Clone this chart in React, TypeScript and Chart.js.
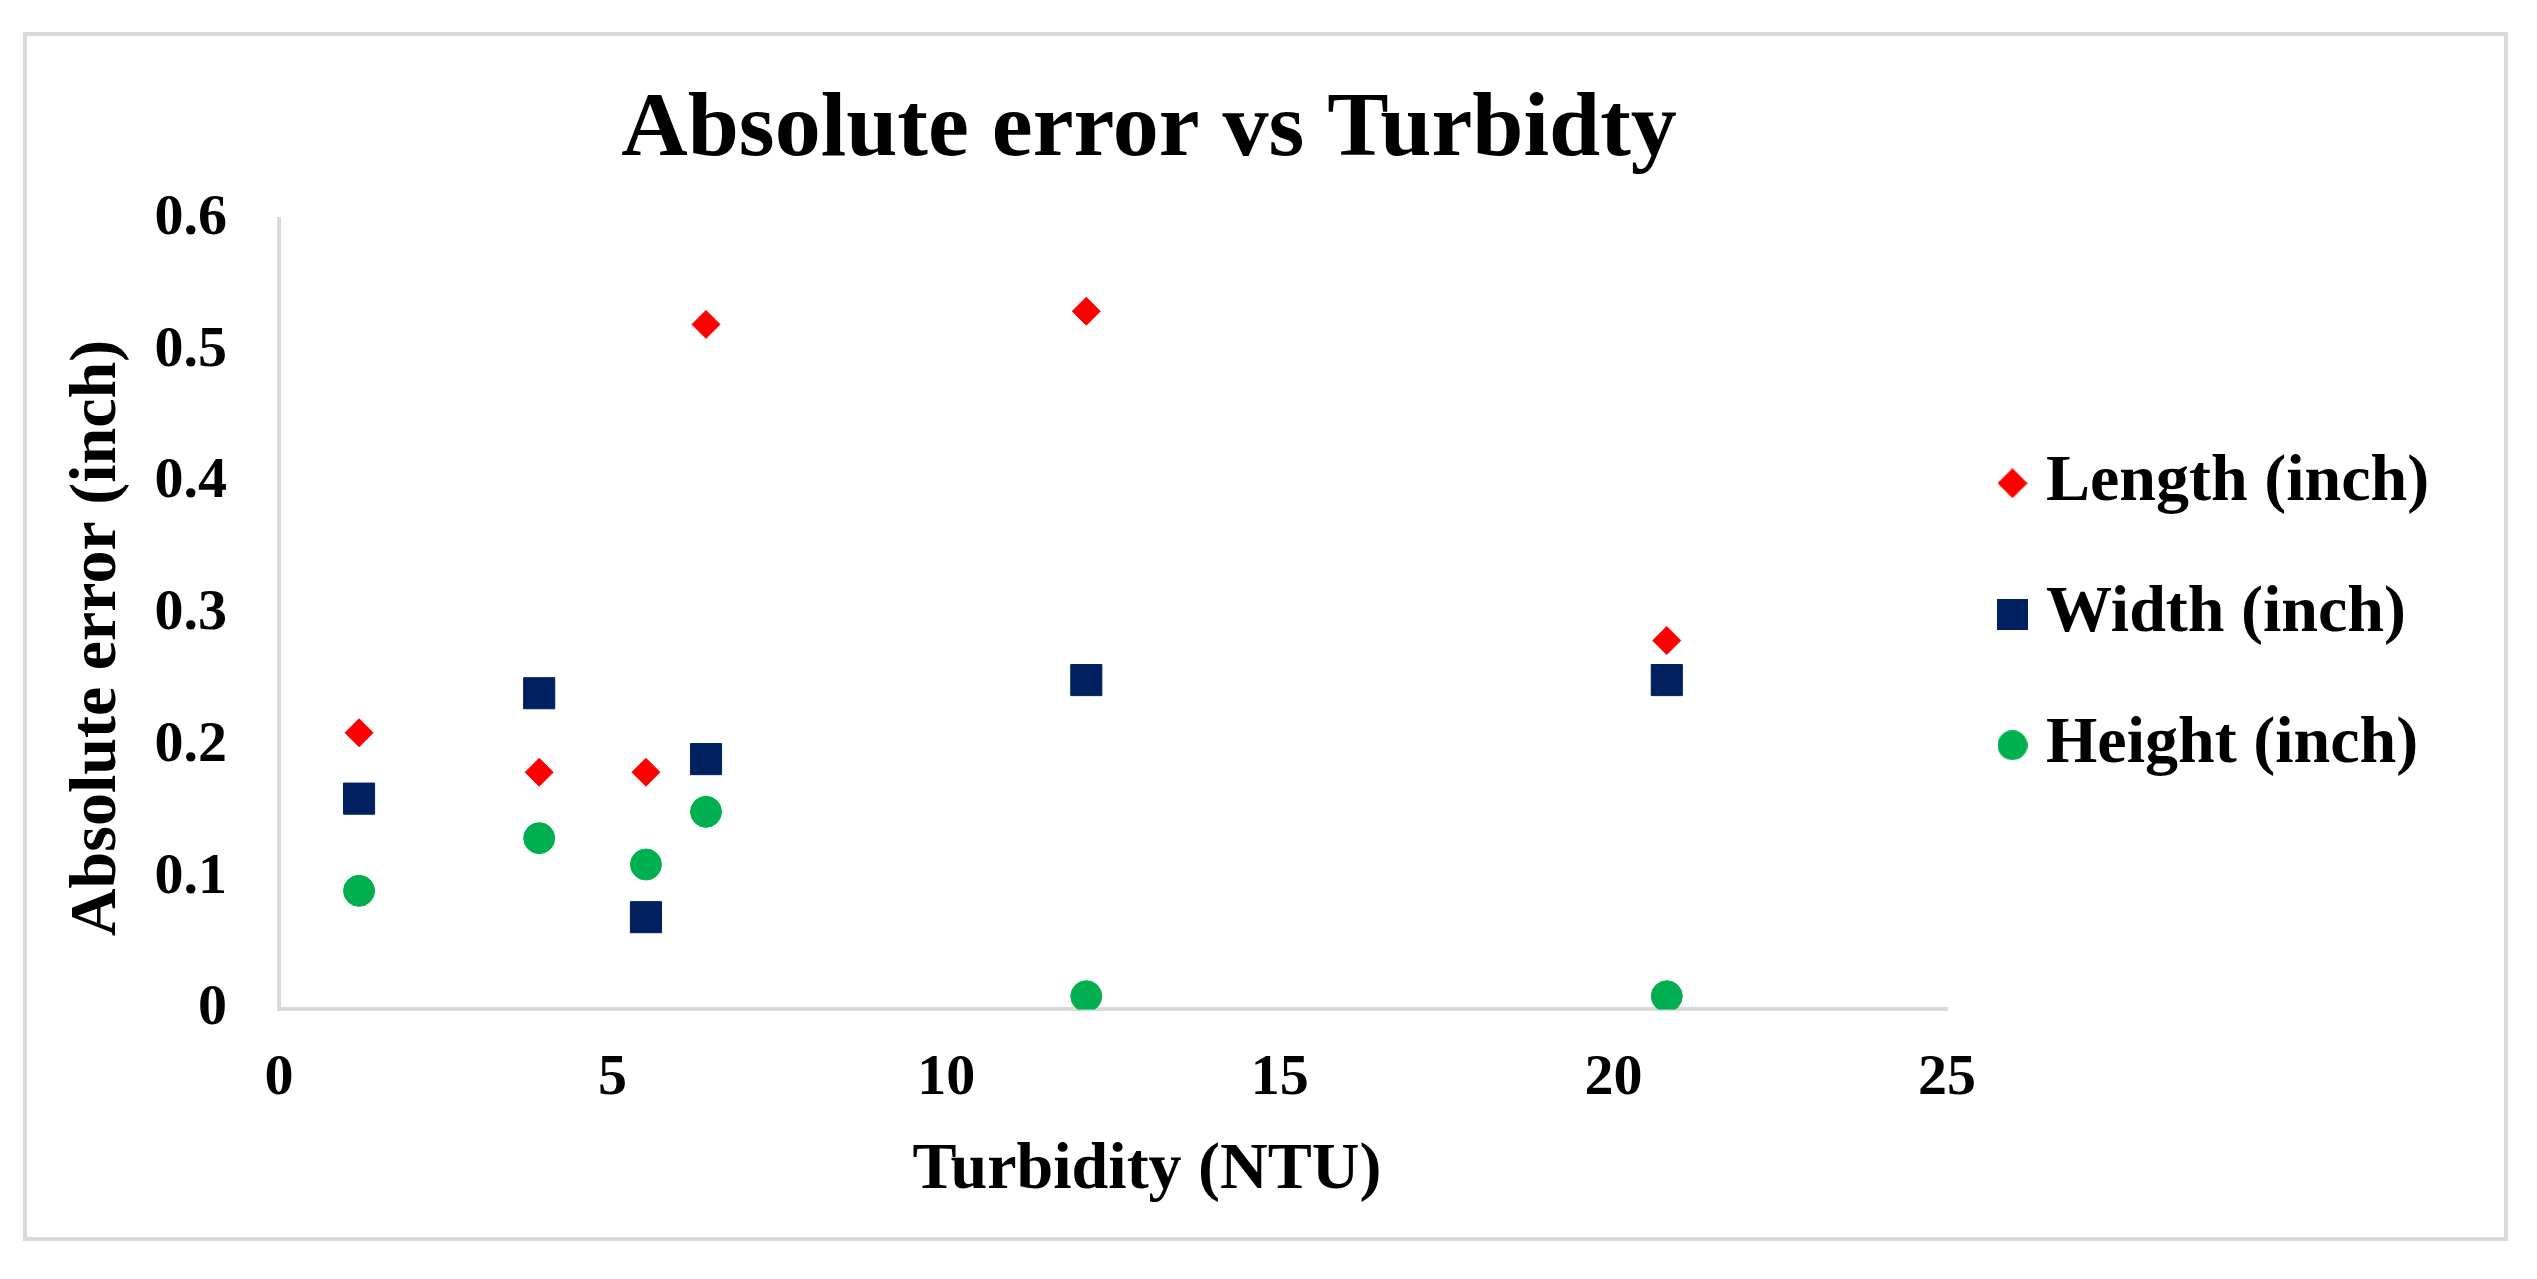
import React, { useEffect, useRef } from "react";
import { Chart, registerables, Legend } from "chart.js";

Chart.register(...registerables);

// ---- data ----
const turbidity = [1.2, 3.9, 5.5, 6.4, 12.1, 20.8];
const lengthErr = [0.21, 0.18, 0.18, 0.52, 0.53, 0.28];
const widthErr = [0.16, 0.24, 0.07, 0.19, 0.25, 0.25];
const heightErr = [0.09, 0.13, 0.11, 0.15, 0.01, 0.01];
const seriesNames = ["Length (inch)", "Width (inch)", "Height (inch)"];
const chartTitle = "Absolute error vs Turbidty";
const xTitle = "Turbidity (NTU)";
const yTitle = "Absolute error (inch)";

const FONT = '"Liberation Serif", "Times New Roman", serif';
const RED = "#ff0000";
const NAVY = "#002060";
const GREEN = "#00b050";

const W = 2537;
const H = 1279;

function makeIcon(shape: string, color: string, size: number) {
  const c = document.createElement("canvas");
  c.width = size;
  c.height = size;
  const g = c.getContext("2d")!;
  g.fillStyle = color;
  const h = size / 2;
  g.beginPath();
  if (shape === "diamond") {
    g.moveTo(h, 0);
    g.lineTo(size, h);
    g.lineTo(h, size);
    g.lineTo(0, h);
    g.closePath();
  } else if (shape === "square") {
    g.rect(0, 0, size, size);
  } else {
    g.arc(h, h, h, 0, Math.PI * 2);
  }
  g.fill();
  return c;
}

export default function App() {
  const ref = useRef<HTMLCanvasElement | null>(null);

  useEffect(() => {
    if (!ref.current) return;
    const legendFontSize = 66;
    const legendPad = 65;
    const legendBox = 1;

    const m = document.createElement("canvas").getContext("2d")!;
    m.font = `bold ${legendFontSize}px ${FONT}`;
    const maxText = Math.max(...seriesNames.map((s) => m.measureText(s).width));
    const plotRight = 1947;
    const legendWidth = legendPad + legendBox + legendFontSize / 2 + maxText + 10;
    const padRight = W - plotRight - legendWidth;

    const icons = [
      makeIcon("diamond", RED, 30),
      makeIcon("square", NAVY, 31),
      makeIcon("circle", GREEN, 30),
    ];

    const titlePlugin = {
      id: "titles",
      afterDraw(chart: any) {
        const { ctx } = chart;
        ctx.save();
        ctx.fillStyle = "#000";
        // main title
        ctx.font = `bold 92px ${FONT}`;
        ctx.textAlign = "center";
        ctx.textBaseline = "alphabetic";
        ctx.fillText(chartTitle, 1149, 155);
        // x axis title
        ctx.font = `bold 66px ${FONT}`;
        ctx.textBaseline = "middle";
        ctx.fillText(xTitle, 1147, 1171);
        // y axis title
        ctx.translate(98, 638);
        ctx.rotate(-Math.PI / 2);
        ctx.fillText(yTitle, 0, 0);
        ctx.restore();
      },
    };

    const mk = (arr: number[]) => turbidity.map((x, i) => ({ x, y: arr[i] }));

    const chart = new Chart(ref.current, {
      type: "scatter",
      data: {
        datasets: [
          {
            label: seriesNames[0],
            data: mk(lengthErr),
            pointStyle: "rectRot",
            pointRadius: 14,
            borderWidth: 1,
            backgroundColor: RED,
            borderColor: RED,
          },
          {
            label: seriesNames[1],
            data: mk(widthErr),
            pointStyle: "rect",
            pointRadius: 22,
            borderWidth: 1,
            backgroundColor: NAVY,
            borderColor: NAVY,
          },
          {
            label: seriesNames[2],
            data: mk(heightErr),
            pointStyle: "circle",
            pointRadius: 15.5,
            borderWidth: 1,
            backgroundColor: GREEN,
            borderColor: GREEN,
          },
        ],
      },
      options: {
        animation: false,
        responsive: false,
        events: [],
        color: "#000",
        layout: {
          padding: { left: 58, top: 219, right: padRight, bottom: 165 },
        },
        plugins: {
          title: { display: false },
          tooltip: { enabled: false },
          legend: {
            display: true,
            position: "right",
            fullSize: false,
            labels: {
              usePointStyle: true,
              boxWidth: legendBox,
              boxHeight: 30,
              padding: legendPad,
              color: "#000",
              font: { family: FONT, size: legendFontSize, weight: "bold" },
              generateLabels: (c: any) =>
                (Legend as any).defaults.labels
                  .generateLabels(c)
                  .map((it: any, i: number) => ({ ...it, pointStyle: icons[i] })),
            },
          },
        },
        scales: {
          x: {
            type: "linear",
            min: 0,
            max: 25,
            grid: { display: false, drawTicks: true, tickLength: 35 },
            border: { display: true, color: "#d9d9d9", width: 4 },
            ticks: {
              stepSize: 5,
              padding: 0,
              color: "#000",
              font: { family: FONT, size: 58, weight: "bold" },
            },
            title: { display: false, text: xTitle },
          },
          y: {
            type: "linear",
            min: 0,
            max: 0.6,
            grid: { display: false, drawTicks: false },
            border: { display: true, color: "#d9d9d9", width: 4 },
            ticks: {
              stepSize: 0.1,
              padding: 52,
              color: "#000",
              font: { family: FONT, size: 58, weight: "bold" },
            },
            title: { display: false, text: yTitle },
            afterFit: (s: any) => {
              s.width = 221;
            },
          },
        },
      } as any,
      plugins: [titlePlugin],
    });
    return () => chart.destroy();
  }, []);

  return (
    <div
      style={{
        position: "fixed",
        left: 0,
        top: 0,
        width: W,
        height: H,
        background: "#fff",
        overflow: "hidden",
      }}
    >
      <div
        style={{
          position: "absolute",
          left: 23,
          top: 32,
          width: 2508 - 23,
          height: 1241 - 32,
          boxSizing: "border-box",
          border: "4px solid #d9d9d9",
        }}
      />
      <canvas
        ref={ref}
        width={W}
        height={H}
        style={{ position: "absolute", left: 0, top: 0, width: W, height: H, display: "block" }}
      />
    </div>
  );
}
